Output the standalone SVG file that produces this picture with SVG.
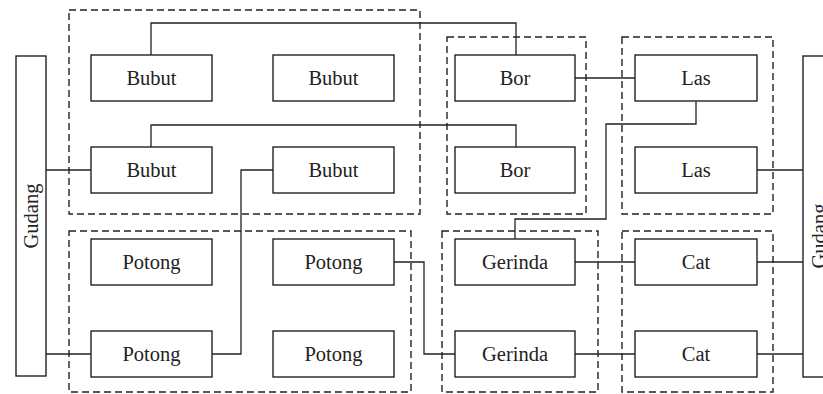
<svg xmlns="http://www.w3.org/2000/svg" width="823" height="394" viewBox="0 0 823 394">
<style>
.bg{fill:#ffffff}
.box{fill:#ffffff;stroke:#222;stroke-width:1.4}
.grp{fill:none;stroke:#222;stroke-width:1.4;stroke-dasharray:7 4}
.conn{fill:none;stroke:#222;stroke-width:1.3}
.lbl{font-family:"Liberation Serif","Times New Roman",serif;font-size:20.5px;fill:#222;text-anchor:middle}
</style>
<rect class="bg" x="0" y="0" width="823" height="394"/>
<g id="groups">
<rect class="grp" x="69" y="10" width="351" height="204"/>
<rect class="grp" x="447" y="37" width="139" height="177"/>
<rect class="grp" x="622" y="37" width="151" height="177"/>
<rect class="grp" x="69" y="231" width="342" height="161"/>
<rect class="grp" x="442" y="231" width="156" height="161"/>
<rect class="grp" x="622" y="231" width="151" height="161"/>
</g>
<g id="connectors">
<path class="conn" d="M151 55 V23 H516 V55"/>
<path class="conn" d="M151 147 V125 H516 V147"/>
<path class="conn" d="M46 170 H91"/>
<path class="conn" d="M273 170 H241 V354 H212"/>
<path class="conn" d="M575 78 H635"/>
<path class="conn" d="M696 101 V124 H606 V219 H515 V239"/>
<path class="conn" d="M757 170 H803"/>
<path class="conn" d="M46 354 H91"/>
<path class="conn" d="M394 262 H424 V354 H455"/>
<path class="conn" d="M575 262 H635"/>
<path class="conn" d="M575 354 H635"/>
<path class="conn" d="M757 262 H803"/>
<path class="conn" d="M757 354 H803"/>
</g>
<g id="gudang-left"><rect class="box" x="16" y="56" width="30" height="320"/><text class="lbl" transform="translate(38 216) rotate(-90)">Gudang</text></g>
<g id="gudang-right"><rect class="box" x="803" y="56" width="40" height="321"/><text class="lbl" transform="translate(826 236) rotate(-90)">Gudang</text></g>
<g id="bubut-1"><rect class="box" x="91" y="55" width="121" height="46"/><text class="lbl" x="151.5" y="85">Bubut</text></g>
<g id="bubut-2"><rect class="box" x="273" y="55" width="121" height="46"/><text class="lbl" x="333.5" y="85">Bubut</text></g>
<g id="bubut-3"><rect class="box" x="91" y="147" width="121" height="46"/><text class="lbl" x="151.5" y="177">Bubut</text></g>
<g id="bubut-4"><rect class="box" x="273" y="147" width="121" height="46"/><text class="lbl" x="333.5" y="177">Bubut</text></g>
<g id="bor-1"><rect class="box" x="455" y="55" width="120" height="46"/><text class="lbl" x="515" y="85">Bor</text></g>
<g id="bor-2"><rect class="box" x="455" y="147" width="120" height="46"/><text class="lbl" x="515" y="177">Bor</text></g>
<g id="las-1"><rect class="box" x="635" y="55" width="122" height="46"/><text class="lbl" x="696" y="85">Las</text></g>
<g id="las-2"><rect class="box" x="635" y="147" width="122" height="46"/><text class="lbl" x="696" y="177">Las</text></g>
<g id="potong-1"><rect class="box" x="91" y="239" width="121" height="46"/><text class="lbl" x="151.5" y="269">Potong</text></g>
<g id="potong-2"><rect class="box" x="273" y="239" width="121" height="46"/><text class="lbl" x="333.5" y="269">Potong</text></g>
<g id="potong-3"><rect class="box" x="91" y="331" width="121" height="46"/><text class="lbl" x="151.5" y="361">Potong</text></g>
<g id="potong-4"><rect class="box" x="273" y="331" width="121" height="46"/><text class="lbl" x="333.5" y="361">Potong</text></g>
<g id="gerinda-1"><rect class="box" x="455" y="239" width="120" height="46"/><text class="lbl" x="515" y="269">Gerinda</text></g>
<g id="gerinda-2"><rect class="box" x="455" y="331" width="120" height="46"/><text class="lbl" x="515" y="361">Gerinda</text></g>
<g id="cat-1"><rect class="box" x="635" y="239" width="122" height="46"/><text class="lbl" x="696" y="269">Cat</text></g>
<g id="cat-2"><rect class="box" x="635" y="331" width="122" height="46"/><text class="lbl" x="696" y="361">Cat</text></g>
</svg>
